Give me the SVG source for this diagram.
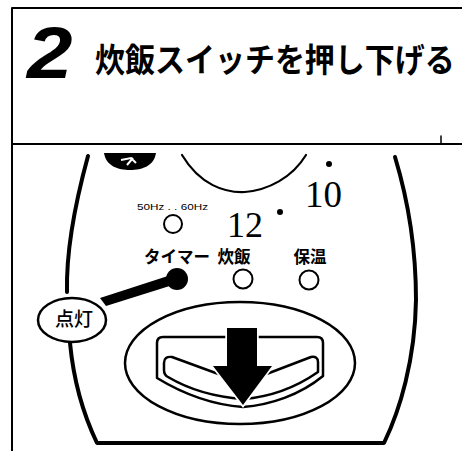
<svg xmlns="http://www.w3.org/2000/svg" width="462" height="451" viewBox="0 0 462 451">
  <style>
    .ln { fill: none; stroke: #000; stroke-linecap: round; stroke-linejoin: round; }
    .jp { font-family: "Noto Sans CJK JP", "Noto Sans", sans-serif; fill: #000; }
    .num { font-family: "Liberation Serif", serif; fill: #000; }
  </style>
  <rect width="462" height="451" fill="#fff"/>

  <!-- frame -->
  <g id="frame">
    <path class="ln" d="M12,8 H462 M12,8 V451 M12,144 H462" stroke-width="2"/>
    <path class="ln" d="M441,136 V143" stroke-width="1.5"/>
  </g>

  <!-- heading -->
  <g id="title">
    <text x="27" y="78" transform="translate(27 78) scale(1.12 1) translate(-27 -78)" font-family="Liberation Sans, Arial, sans-serif" font-size="73" font-weight="bold" font-style="italic">2</text>
    <text class="jp" x="95" y="72" transform="translate(0 72) scale(1 1.1) translate(0 -72)" font-size="30" font-weight="600">炊飯スイッチを押し下げる</text>
  </g>

  <!-- control panel body -->
  <g id="panel">
    <path class="ln" d="M88,156 C76,200 66,250 67,292" stroke-width="4"/>
    <path class="ln" d="M70,343 C74,385 86,420 97,443 H384 C400,410 415,360 416,300 C416,250 408,200 395,157" stroke-width="4"/>
    <!-- dial rim -->
    <path class="ln" d="M182,155 C200,185 225,193 245,192 C268,190 292,178 306,155" stroke-width="2.2"/>
    <!-- logo badge -->
    <path d="M104,153 C106,166 118,170 130,170 C142,170 154,166 156,153 Z" fill="#000"/>
    <path d="M121,160 L131,158 L136,163 M133,158 L127,165" fill="none" stroke="#fff" stroke-width="2"/>
  </g>

  <!-- timer scale -->
  <g id="scale">
    <circle cx="329" cy="164" r="3" fill="#000"/>
    <circle cx="280" cy="212" r="3" fill="#000"/>
    <text class="num" x="305" y="207" font-size="37">10</text>
    <text class="num" x="227" y="237" font-size="36">12</text>
  </g>

  <!-- frequency selector -->
  <g id="freq">
    <text x="137" y="210" font-family="Liberation Sans, Arial, sans-serif" font-size="9" textLength="71" lengthAdjust="spacingAndGlyphs">50Hz . . 60Hz</text>
    <circle cx="173" cy="224" r="9" fill="#fff" stroke="#000" stroke-width="2"/>
  </g>

  <!-- indicator lamps -->
  <g id="lamp-timer">
    <text class="jp" x="177" y="263" font-size="16.5" font-weight="700" text-anchor="middle">タイマー</text>
    <circle cx="177" cy="279" r="11" fill="#000"/>
  </g>
  <g id="lamp-cook">
    <text class="jp" x="234" y="263" font-size="16.5" font-weight="700" text-anchor="middle">炊飯</text>
    <circle cx="243" cy="279" r="9.5" fill="#fff" stroke="#000" stroke-width="2"/>
  </g>
  <g id="lamp-warm">
    <text class="jp" x="310" y="263" font-size="16.5" font-weight="700" text-anchor="middle">保温</text>
    <circle cx="309" cy="280" r="9.5" fill="#fff" stroke="#000" stroke-width="2"/>
  </g>

  <!-- callout -->
  <g id="connectors">
    <polygon points="100,298 106,306 176,284 171,275" fill="#000"/>
  </g>
  <g id="callout-lit">
    <ellipse cx="72" cy="320" rx="34" ry="22" fill="#fff" stroke="#000" stroke-width="2.5"/>
    <text class="jp" x="74" y="326" font-size="19" font-weight="500" text-anchor="middle">点灯</text>
  </g>

  <!-- cook switch -->
  <g id="switch">
    <ellipse cx="240" cy="363" rx="115" ry="61" fill="none" stroke="#000" stroke-width="2.5"/>
    <path class="ln" d="M163,337 H317 Q323,337 323,343 V376 C300,395 270,405 243,407 C215,405 185,395 157,378 V343 Q157,337 163,337 Z" stroke-width="2.5"/>
    <path class="ln" d="M172,357 L243,383 L311,357 Q318,356 318,362 V372 C295,388 270,397 243,399 C215,397 190,390 168,377 Q164,375 164,370 V363 Q164,356 172,357 Z" stroke-width="2.5"/>
    <path d="M227,328 H257 V366 H272 L243,405 L213,366 H227 Z" fill="#000" stroke="#fff" stroke-width="3.5" paint-order="stroke" stroke-linejoin="miter"/>
  </g>
</svg>
